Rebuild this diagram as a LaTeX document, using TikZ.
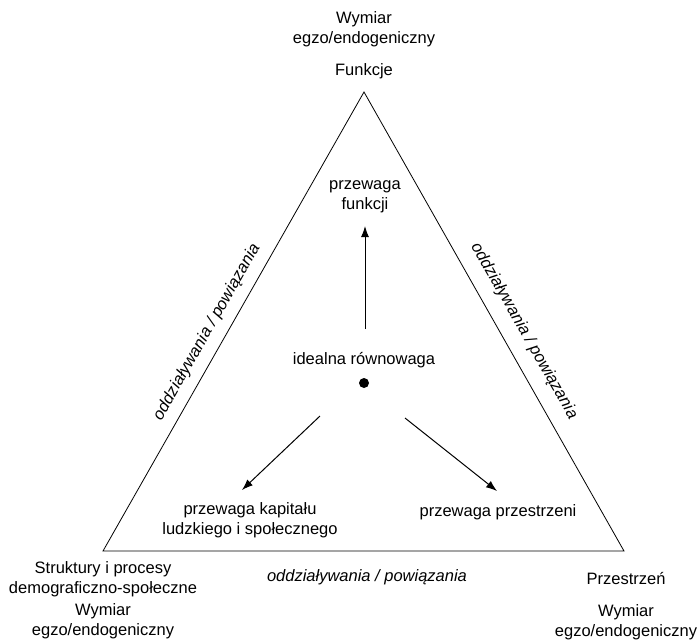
\documentclass[tikz,border=0pt]{standalone}
\usepackage{fontspec}
\setmainfont{Liberation Sans}
\usetikzlibrary{arrows.meta}
\begin{document}
\begin{tikzpicture}[x=1pt,y=-1pt,
  lbl/.style={inner sep=0pt,align=center,font=\fontsize{16.5}{20}\selectfont},
  edgelbl/.style={inner sep=0pt,font=\fontsize{16.5}{20}\selectfont\itshape},
  arr/.style={line width=1pt,-{Latex[length=11pt,width=8pt]}},
  tri/.style={line width=0.8pt}]
\useasboundingbox (0,0) rectangle (699,641);
% triangle vertices
\coordinate (T) at (364,92);
\coordinate (L) at (103,551);
\coordinate (R) at (624,551);
\draw[tri] (T) -- (L) -- (R) -- cycle;
% vertex labels
\node[lbl] (top) at (364,29) {Wymiar\\egzo/endogeniczny};
\node[lbl] (fun) at (364,71) {Funkcje};
\node[lbl] (str) at (103,579) {Struktury i procesy\\demograficzno-społeczne};
\node[lbl] (wl) at (103,621) {Wymiar\\egzo/endogeniczny};
\node[lbl] (prz) at (626,578) {Przestrzeń};
\node[lbl] (wr) at (626,622) {Wymiar\\egzo/endogeniczny};
% edge labels
\node[edgelbl,rotate=60.4] (el) at (207,332) {oddziaływania / powiązania};
\node[edgelbl,rotate=-60.4] (er) at (524,331) {oddziaływania / powiązania};
\node[edgelbl] (eb) at (367,577) {oddziaływania / powiązania};
% inner content
\node[lbl] (pf) at (365,197) {przewaga\\funkcji};
\node[lbl] (ir) at (364,360) {idealna równowaga};
\node[circle,fill=black,inner sep=0pt,minimum size=10pt] (dot) at (364,383) {};
\node[lbl] (pk) at (250,520) {przewaga kapitału\\ludzkiego i społecznego};
\node[lbl] (pp) at (498,512) {przewaga przestrzeni};
\coordinate (a1s) at (365,329);
\coordinate (a2s) at (320,416);
\coordinate (a3s) at (405,418);
\draw[arr] (a1s) -- (pf.south |- 0,226);
\draw[arr] (a2s) -- (242,490);
\draw[arr] (a3s) -- (497,491);
\end{tikzpicture}
\end{document}
